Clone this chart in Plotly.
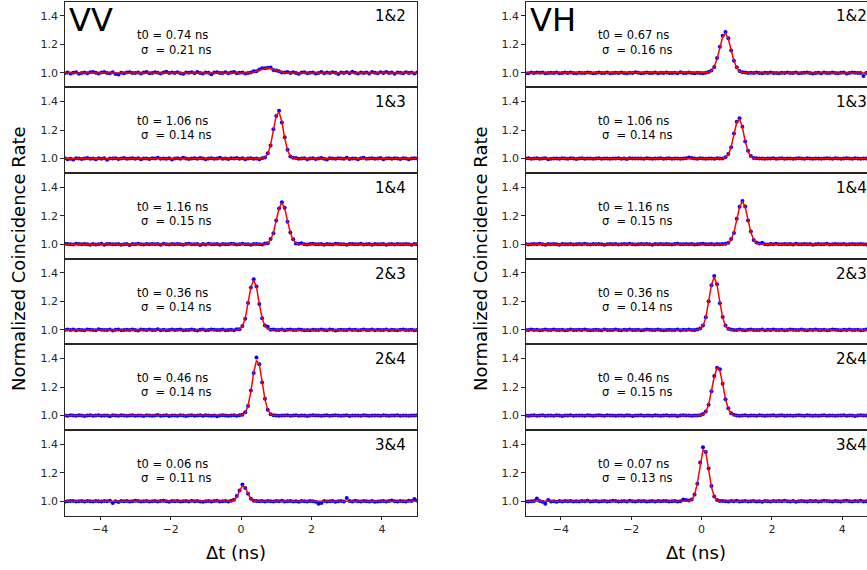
import numpy as np
import plotly.graph_objects as go

# ---------------- data ----------------
# time-difference bin centres (ns): 126 bins of 0.08 ns from -5 to 5
DT = np.round(np.linspace(-5.0, 5.0, 126), 2)

PAIRS = ["1&2", "1&3", "1&4", "2&3", "2&4", "3&4"]

VV_T0 = [0.74, 1.06, 1.16, 0.36, 0.46, 0.06]
VV_SIGMA = [0.21, 0.14, 0.15, 0.14, 0.14, 0.11]
VH_T0 = [0.67, 1.06, 1.16, 0.36, 0.46, 0.07]
VH_SIGMA = [0.16, 0.14, 0.15, 0.14, 0.15, 0.13]

# measured normalized rates, given as excess over 1.0 in units of 0.001
VV_12 = [-2, 3, -5, 1, 4, -6, 0, 2, -3, 5,
         6, 1, -4, 3, 7, 0, -2, 4, -8, -12,
         1, -3, 2, 5, -1, 0, 3, -4, 2, 6,
         -2, 0, 4, 1, -5, 3, 8, -1, 2, 0,
         5, -3, -6, 2, 1, 4, -2, 7, 0, -4,
         3, 1, -9, 2, 5, -1, 0, 4, -3, 2,
         6, -2, 1, 3, -5, 0, 2, 11, 12, 23,
         33, 32, 36, 37, 20, 16, 12, 2, 2, 7,
         -1, 4, 0, -6, 2, 5, -2, 1, 3, -4,
         0, 6, -3, 2, -1, 4, 1, -7, 3, 0,
         5, -2, 8, 1, -4, 3, 0, 2, -5, 6,
         1, -3, 4, 0, 7, -1, 2, -6, 3, 1,
         -2, 5, 0, 3, -4, 2]
VV_13 = [3, -4, -1, -7, 2, 0, -3, 1, 4, -2,
         0, -5, 2, -1, 3, -9, 1, 0, 2, -3,
         1, 4, -2, 0, 3, -1, 2, -4, 0, 1,
         -3, 2, 0, 5, -2, 1, -1, 3, -6, 0,
         2, -1, 6, 1, -3, 0, 2, -2, 4, 1,
         -4, 0, 3, -2, 1, 5, -1, 0, -3, 2,
         0, 4, -1, 2, -5, 1, 3, -2, 0, -4,
         3, 7, 37, 91, 206, 298, 335, 252, 149, 61,
         15, 5, 4, -2, 0, 3, -5, 1, 2, -3,
         0, 4, -1, -6, 2, 1, -2, 3, 0, -1,
         5, -3, 1, 0, -4, 2, 6, -1, 0, 3,
         -2, 1, 4, -5, 0, 2, -1, 3, 1, -3,
         2, 0, -4, 1, 3, 0]
VV_14 = [4, 1, 0, -2, 3, 1, -1, 2, 0, -3,
         1, -2, 0, 3, -4, 1, 2, -1, 0, 2,
         -3, 0, 1, -5, 2, 0, 3, -1, -2, 1,
         0, 2, -1, 1, -3, 4, 0, -2, 1, -1,
         2, 0, -4, 1, 3, -1, 0, 2, -6, 1,
         -2, 3, 0, -1, 1, -3, 2, 0, -1, 4,
         1, -2, 0, 3, -1, 0, -3, 2, 1, -1,
         -2, 5, 7, 36, 77, 167, 250, 294, 255, 158,
         83, 35, 5, 3, 6, 0, -2, 1, 3, -1,
         0, 2, -3, 1, 0, -2, 4, 1, -1, 0,
         -3, 1, 2, 0, -1, 3, -2, 0, 1, -4,
         2, 0, -1, 1, -3, 0, 2, -2, 1, 0,
         -1, 2, 0, -3, 1, 0]
VV_23 = [-1, 2, 0, 3, -2, 1, 0, -3, 2, 1,
         0, -2, 4, 1, -1, 0, 2, -4, 1, 3,
         -2, 0, 1, -1, 3, 0, -5, 2, 1, 0,
         2, -1, 0, 4, -2, 1, -3, 0, 2, -1,
         1, 3, -2, 0, -1, 2, 0, -4, 1, 2,
         -3, 0, 2, 1, -1, 0, 3, -2, 0, 1,
         -2, 4, 5, 28, 78, 188, 297, 354, 304, 181,
         82, 30, 22, 1, 3, -1, 0, 2, -2, 1,
         2, 0, -1, 2, 1, -3, 0, -2, 1, 0,
         -1, 3, 0, -2, 2, 1, -4, 0, 1, -1,
         0, 2, -1, 1, -3, 0, 2, -1, 0, 3,
         -2, 1, 0, -1, 2, -3, 1, 0, -2, 1,
         2, -1, 0, 1, -2, 0]
VV_24 = [1, -1, 2, 0, -2, 3, 1, -3, 0, 2,
         -1, 0, 3, -2, 1, 0, -4, 2, 1, -1,
         2, 1, -1, 0, 3, -2, 0, 1, -3, 2,
         0, -2, 1, 4, -1, 0, 2, -3, 1, 0,
         -1, 2, 0, -3, 1, 2, -1, 0, 2, -2,
         3, 0, -1, 1, -4, 0, 2, 1, -1, 0,
         2, -1, 2, 6, 23, 67, 176, 299, 406, 359,
         232, 117, 41, 9, 3, 0, -2, 1, 0, 3,
         -1, 0, 2, -2, 1, 0, -3, 1, 2, 0,
         1, -1, 0, 2, -2, 1, 3, 0, -1, 0,
         2, -3, 0, 1, 0, -1, 2, 0, -2, 1,
         0, 1, -1, 3, 0, -2, 1, 0, 2, -1,
         1, 0, -2, 1, 0, 2]
VV_34 = [-3, 0, 1, 2, -1, 0, 2, -2, 1, 0,
         -1, 1, 0, -2, 2, 0, 3, -12, 0, -5,
         2, 0, 1, -1, 0, 3, 1, -2, 0, 1,
         -1, 0, 2, -2, 1, 3, 0, -3, 1, 0,
         2, -1, 0, 1, -2, 3, 0, 2, -1, -4,
         0, 2, -1, 1, 3, -2, 0, 1, -1, 3,
         10, 36, 76, 118, 93, 52, 17, 4, 2, 0,
         1, -1, 2, 0, -2, 1, 0, 3, -1, 0,
         2, -2, 0, -4, 1, 0, -1, 2, 0, -3,
         -18, -12, 2, -1, 0, 1, -3, 0, 2, -1,
         22, 2, -1, 4, 0, -2, 1, 0, -1, 2,
         -3, -1, 0, 2, -2, 1, 5, 0, -1, 2,
         0, -1, 3, 1, 15, 4]

VH_12 = [-2, -3, 2, 0, 3, 1, 2, -2, 0, 1,
         -1, 2, -3, 0, 3, -1, 2, 0, -2, 1,
         0, -1, 2, 1, -2, 0, 3, -1, 0, 2,
         -3, 0, 1, -1, 2, 0, -2, 1, 0, 4,
         1, -2, 0, 2, -1, 0, 3, -3, 1, 0,
         2, -1, 0, 1, -2, 4, 0, -1, 2, 0,
         -3, 1, 0, -2, 1, 6, 17, 42, 105, 183,
         260, 286, 242, 156, 85, 40, 13, 4, 2, 0,
         1, -1, 3, 0, -2, 1, 0, 2, -1, 0,
         -3, 1, 0, 2, -1, 0, 3, -2, 0, 1,
         2, -1, -4, 0, 1, -2, 3, 0, -1, 2,
         0, -3, 1, 2, -5, 0, 2, 1, -1, 0,
         -22, 0, -2, 1, -8, 1]
VH_13 = [0, 2, -1, 1, 3, -2, 0, 2, -4, -1,
         1, 0, -2, 3, 0, -1, 2, 0, -3, 1,
         2, -1, 0, 1, -2, 0, 3, -1, 1, 0,
         -2, 1, 0, 2, -1, 0, -3, 2, 0, 1,
         1, 0, -1, 3, 0, -2, 1, 0, 2, -1,
         0, 2, -1, 0, 1, -2, 0, 3, 8, 4,
         0, -1, 2, 0, -2, 1, 0, -1, 2, 0,
         0, 10, 32, 79, 175, 257, 283, 222, 119, 54,
         18, 4, 2, 1, 0, -2, 1, 0, 3, -1,
         0, 2, -1, 0, 1, -2, 0, 3, 0, -1,
         2, 0, -1, 1, 0, -2, 1, 3, 0, -1,
         2, 0, -2, 1, 3, 0, -1, 2, 0, -2,
         1, 0, -1, -2, -1, 0]
VH_14 = [1, -2, 0, 2, -1, 3, 0, -4, 1, 0,
         2, 0, -3, 1, 0, -1, 2, -2, 0, 1,
         -1, 3, 0, -2, 1, 0, 2, -1, -3, 0,
         1, 0, 2, -2, 0, 1, -1, 3, 0, -2,
         0, 1, -1, 2, 0, -3, 1, 0, 2, -1,
         1, 0, -2, 1, 3, 0, -1, 2, 0, 1,
         -2, 0, 1, 3, -1, 0, 2, -2, 1, 0,
         2, 3, 11, 37, 79, 178, 263, 303, 265, 166,
         89, 29, 13, 5, 10, 0, -2, 1, 0, 3,
         0, -1, 2, 0, 1, -2, 3, 0, -1, 2,
         0, 1, -3, 0, 2, -1, 0, 3, -2, 0,
         1, -1, 0, 2, -2, 0, 1, 0, -1, 2,
         0, -2, 1, 0, 3, -1]
VH_23 = [0, -1, 2, 0, 1, -2, 0, 3, -1, 0,
         2, -1, 0, 1, -3, 0, 2, 0, -1, 1,
         0, 2, -1, -3, 0, 1, 0, -2, 2, 0,
         -1, 0, 3, 0, -2, 1, 0, 2, -1, 0,
         1, -2, 0, 2, 1, -1, 0, 3, 0, -2,
         0, 1, -1, 0, 2, -2, 1, 0, 3, -1,
         0, 2, 10, 30, 89, 201, 313, 378, 320, 187,
         90, 30, 8, 2, 0, -1, 2, 0, -2, 1,
         3, 0, -1, 0, 2, -2, 1, 0, 3, -1,
         0, 1, -2, 0, 2, 1, -1, 0, 2, 0,
         -3, 1, 0, 2, -1, 0, 1, -2, 0, 3,
         1, 0, -2, 1, 0, 2, -1, 0, 1, -3,
         0, 2, 1, -1, 0, 1]
VH_24 = [1, -2, 0, 2, -1, 0, 3, -2, 1, 0,
         -1, 2, 0, -3, 1, 0, 2, -1, 0, 1,
         0, -1, 2, 0, -2, 1, 3, 0, -1, 2,
         1, 0, -2, 1, 0, -1, 2, 0, -3, 1,
         0, 2, -1, 0, 1, -2, 3, 0, -1, 0,
         2, -1, 0, 1, -3, 0, 2, 1, 0, -1,
         1, 0, 3, 11, 29, 75, 170, 277, 335, 324,
         223, 114, 52, 17, 5, 1, -1, 0, 2, -2,
         0, 1, -1, 2, 0, -2, 1, 0, 3, -1,
         0, 2, -1, 0, 1, -2, 0, 3, 0, -1,
         2, 0, -1, 1, -2, 0, 3, -1, 0, 1,
         -2, 1, 0, 2, -1, 0, 1, -3, 0, 2,
         1, 0, -2, 0, 3, 1]
VH_34 = [-2, -1, 0, 2, 20, 1, -3, -18, 8, -2,
         0, -4, 1, -1, 2, 0, 1, -2, 0, -1,
         1, 0, 3, -1, 0, 2, -2, 0, 1, -1,
         0, 4, 1, -2, 0, 2, -1, 3, 0, -2,
         1, 0, 2, -1, 0, 1, -2, 2, 0, 1,
         2, -2, 0, 1, -1, 0, 12, 8, 6, 12,
         48, 122, 272, 378, 344, 230, 106, 33, 9, 1,
         2, 0, -1, 1, 0, 3, -2, 0, 1, -1,
         0, 2, -1, 0, -4, 1, 0, -2, 2, 0,
         1, 0, 3, 0, -1, 2, -3, 0, 1, 0,
         -1, 2, 0, 1, -2, 0, 3, 1, 0, -1,
         2, 0, -2, 1, 4, 0, -1, 2, 0, 3,
         -1, 0, 1, 2, 0, 1]

# Gaussian-fit curve: excess over 1.0 (units of 0.001) on the bins around the
# peak, starting at the given bin index; the fit is 1.0 elsewhere
VV_12_FIT_FROM, VV_12_FIT = 67, [7, 13, 20, 28, 34, 35, 31, 24, 16, 9, 5]
VV_13_FIT_FROM, VV_13_FIT = 70, [1, 8, 33, 96, 200, 301, 327, 256, 144, 58, 17, 4, 1]
VV_14_FIT_FROM, VV_14_FIT = 71, [2, 8, 30, 81, 164, 252, 290, 252, 164, 81, 30, 8, 2]
VV_23_FIT_FROM, VV_23_FIT = 61, [1, 6, 26, 81, 183, 298, 350, 298, 183, 81, 26, 6, 1]
VV_24_FIT_FROM, VV_24_FIT = 62, [1, 4, 20, 69, 170, 303, 386, 356, 237, 113, 39, 10, 2]
VV_34_FIT_FROM, VV_34_FIT = 59, [1, 7, 29, 73, 108, 95, 49, 15, 3, 0]
VH_12_FIT_FROM, VH_12_FIT = 65, [4, 14, 43, 99, 180, 254, 279, 239, 160, 83, 34, 11, 3]
VH_13_FIT_FROM, VH_13_FIT = 70, [1, 7, 28, 81, 170, 255, 277, 217, 122, 50, 15, 3, 0]
VH_14_FIT_FROM, VH_14_FIT = 71, [2, 8, 31, 83, 170, 260, 300, 260, 170, 83, 31, 8, 2]
VH_23_FIT_FROM, VH_23_FIT = 61, [1, 6, 27, 86, 193, 315, 370, 315, 193, 86, 27, 6, 1]
VH_24_FIT_FROM, VH_24_FIT = 62, [1, 7, 26, 76, 166, 272, 337, 314, 220, 116, 46, 14, 3]
VH_34_FIT_FROM, VH_34_FIT = 58, [2, 10, 43, 128, 258, 360, 344, 225, 100, 31, 6, 1]

Y_TICKS = [1.0, 1.2, 1.4]
X_TICKS = [-4, -2, 0, 2, 4]

VV_DATA = [VV_12, VV_13, VV_14, VV_23, VV_24, VV_34]
VH_DATA = [VH_12, VH_13, VH_14, VH_23, VH_24, VH_34]
VV_FITS = [(VV_12_FIT_FROM, VV_12_FIT), (VV_13_FIT_FROM, VV_13_FIT), (VV_14_FIT_FROM, VV_14_FIT),
           (VV_23_FIT_FROM, VV_23_FIT), (VV_24_FIT_FROM, VV_24_FIT), (VV_34_FIT_FROM, VV_34_FIT)]
VH_FITS = [(VH_12_FIT_FROM, VH_12_FIT), (VH_13_FIT_FROM, VH_13_FIT), (VH_14_FIT_FROM, VH_14_FIT),
           (VH_23_FIT_FROM, VH_23_FIT), (VH_24_FIT_FROM, VH_24_FIT), (VH_34_FIT_FROM, VH_34_FIT)]

# ---------------- layout ----------------
W, H = 867, 570
FONT = "DejaVu Sans"
AX = "#262626"


def px(x):
    return x / W


def py(y):
    return 1 - y / H


PANEL_TOP0 = 1.5
PANEL_H = 85.67
COLS = [
    dict(name="VV", data=VV_DATA, fits=VV_FITS, t0=VV_T0, sig=VV_SIGMA,
         x0=64.8, x1=417.2, xr=[-5, 5], mirror_y=True, title_x=236, ytitle_x=18,
         pair_x=408),
    dict(name="VH", data=VH_DATA, fits=VH_FITS, t0=VH_T0, sig=VH_SIGMA,
         x0=525.6, x1=867, xr=[-5, 4.70], mirror_y=False, title_x=696, ytitle_x=480,
         pair_x=869),
]

fig = go.Figure()
layout = {}
annotations = []

for c, col in enumerate(COLS):
    for r in range(6):
        n = c * 6 + r + 1
        xa = "x" if n == 1 else f"x{n}"
        ya = "y" if n == 1 else f"y{n}"
        vals = 1.0 + np.array(col["data"][r]) / 1000.0
        start, seg = col["fits"][r]
        fit = np.ones(len(DT))
        fit[start:start + len(seg)] += np.array(seg) / 1000.0

        fig.add_trace(go.Scatter(x=DT, y=vals, mode="markers",
                                 marker=dict(color="#0000ff", size=4, line=dict(width=0)),
                                 xaxis=xa, yaxis=ya, showlegend=False, hoverinfo="skip"))
        fig.add_trace(go.Scatter(x=DT, y=fit, mode="lines",
                                 line=dict(color="#ff0000", width=1.5),
                                 xaxis=xa, yaxis=ya, showlegend=False, hoverinfo="skip"))

        top = PANEL_TOP0 + r * PANEL_H
        bot = top + PANEL_H
        bottom_row = (r == 5)
        layout["xaxis" if n == 1 else f"xaxis{n}"] = dict(
            domain=[px(col["x0"]), px(col["x1"])], range=col["xr"], anchor=ya,
            showline=True, linecolor=AX, linewidth=1, mirror=True,
            showgrid=False, zeroline=False,
            tickmode="array", tickvals=X_TICKS,
            ticks="outside" if bottom_row else "", ticklen=3.5, tickwidth=1, tickcolor=AX,
            showticklabels=bottom_row, tickfont=dict(family=FONT, size=11, color=AX),
        )
        layout["yaxis" if n == 1 else f"yaxis{n}"] = dict(
            domain=[py(bot), py(top)], range=[0.9, 1.5], anchor=xa,
            showline=True, linecolor=AX, linewidth=1, mirror=col["mirror_y"],
            showgrid=False, zeroline=False,
            tickmode="array", tickvals=Y_TICKS, tickformat=".1f",
            ticks="outside", ticklen=3.5, tickwidth=1, tickcolor=AX,
            tickfont=dict(family=FONT, size=11, color=AX),
        )

        # pair label, top-right
        annotations.append(dict(text=PAIRS[r], xref="paper", yref="paper",
                                x=px(col["pair_x"]), y=py(top + 15),
                                xanchor="right", yanchor="middle", showarrow=False,
                                font=dict(family=FONT, size=15, color="black")))
        # fit parameters
        tx = col["x0"] + 70.5
        annotations.append(dict(text=f"t0 = {col['t0'][r]:.2f} ns", xref="paper", yref="paper",
                                x=px(tx), y=py(top + 34), xanchor="left", yanchor="middle",
                                showarrow=False, font=dict(family=FONT, size=11.5, color="black")))
        annotations.append(dict(text=f"σ\u00a0\u00a0= {col['sig'][r]:.2f} ns", xref="paper", yref="paper",
                                x=px(tx + 4), y=py(top + 48), xanchor="left", yanchor="middle",
                                showarrow=False, font=dict(family=FONT, size=11.5, color="black")))

    # polarisation tag
    annotations.append(dict(text=col["name"], xref="paper", yref="paper",
                            x=px(col["x0"] + 2), y=py(20), xanchor="left", yanchor="middle",
                            showarrow=False, font=dict(family=FONT, size=32, color="black")))
    # axis titles
    annotations.append(dict(text="Δt (ns)", xref="paper", yref="paper",
                            x=px(col["title_x"]), y=py(552), xanchor="center", yanchor="middle",
                            showarrow=False, font=dict(family=FONT, size=18, color="black")))
    annotations.append(dict(text="Normalized Coincidence Rate", xref="paper", yref="paper",
                            x=px(col["ytitle_x"]), y=py(259), xanchor="center", yanchor="middle",
                            textangle=-90, showarrow=False,
                            font=dict(family=FONT, size=18, color="black")))

fig.update_layout(
    width=W, height=H,
    margin=dict(l=0, r=0, t=0, b=0),
    paper_bgcolor="white", plot_bgcolor="white",
    annotations=annotations,
    **layout,
)

fig.write_html("out.html", config={"displayModeBar": False},
               post_script="document.body.style.margin='0';")
